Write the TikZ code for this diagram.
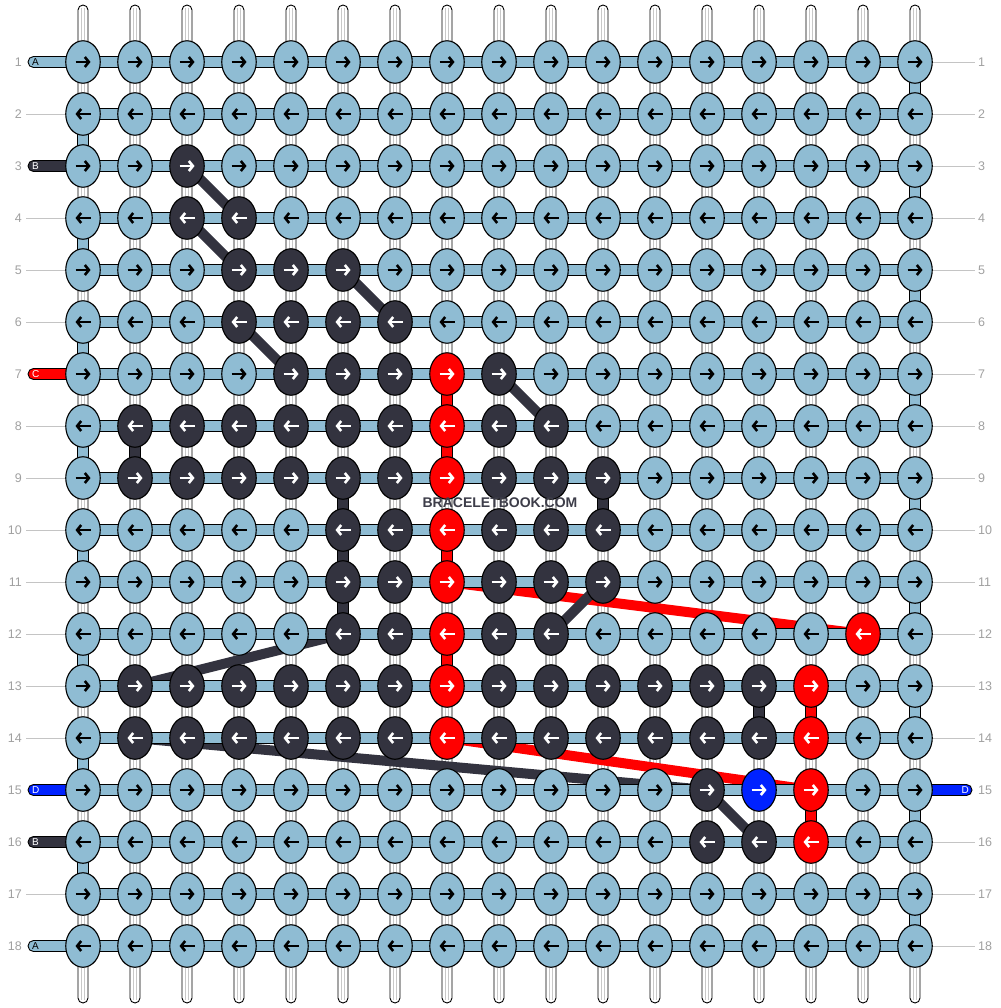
\documentclass[tikz,border=0pt]{standalone}
\usepackage{fontspec}
\setmainfont{Liberation Sans}
\usetikzlibrary{shapes.geometric,arrows.meta}
\definecolor{lb}{HTML}{8FBCD3}
\definecolor{dk}{HTML}{33333F}
\definecolor{rd}{HTML}{FF0000}
\definecolor{bl}{HTML}{0022FF}
\definecolor{numc}{HTML}{A0A0A0}
\definecolor{glc}{HTML}{C4C4C4}
\definecolor{wgc}{HTML}{C8C8C8}
\begin{document}
\begin{tikzpicture}[x=1pt,y=-1pt,
  knot/.style={ellipse,draw=black,line width=1.1pt,minimum width=34.5pt,minimum height=42.5pt,inner sep=0pt},
  warp/.style={draw=black,fill=white,line width=0.9pt},
  warpline/.style={draw=wgc,line width=0.8pt},
  band/.style={draw=black,fill=lb,line width=0.9pt},
  vseg/.style={draw=black,line width=0.9pt},
  diag/.style={line width=10pt,line cap=butt},
  arr/.style={line width=2.6pt,-{Straight Barb[length=4pt,width=10pt]}},
  numlab/.style={text=numc,font=\fontsize{12.5}{13}\selectfont,inner sep=0pt},
  tagtxt/.style={font=\fontsize{10}{10}\selectfont,inner sep=0pt},
  wmark/.style={font=\bfseries\fontsize{14}{14}\selectfont,inner sep=0pt},
  gline/.style={draw=glc,line width=0.8pt}]
\useasboundingbox (0,0) rectangle (1000,1008);
% grid coordinates
\foreach \r in {1,...,18}{\foreach \c in {1,...,17}{
  \coordinate (p-\r-\c) at ({83+(\c-1)*52},{62+(\r-1)*52});}}
% warps
\foreach \c in {1,...,17}{
  \coordinate (wt-\c) at ({83+(\c-1)*52},5);
  \coordinate (wb-\c) at ({83+(\c-1)*52},1003);
  \draw[warp,rounded corners=5pt] ([xshift=-5pt]wt-\c) rectangle ([xshift=5pt]wb-\c);
  \draw[warpline] ([xshift=-1.5pt,yshift=-3pt]wt-\c) -- ([xshift=-1.5pt,yshift=3pt]wb-\c);
  \draw[warpline] ([xshift=1.5pt,yshift=-3pt]wt-\c) -- ([xshift=1.5pt,yshift=3pt]wb-\c);
}
% carried strings (diagonals)
\foreach \a/\b in {11-8/12-16,14-8/15-15}{\draw[diag,draw=rd] (p-\a) -- (p-\b);}
\foreach \a/\b in {3-3/4-4,4-3/5-4,5-6/6-7,6-4/7-5,7-9/8-10,11-11/12-10,12-6/13-2,14-2/15-13,15-13/16-14}{\draw[diag,draw=dk] (p-\a) -- (p-\b);}
% horizontal bands
\foreach \r in {1,...,18}{
  \draw[band] ([yshift=-5.5pt]p-\r-1) rectangle ([yshift=5.5pt]p-\r-17);}
% vertical filled segments
\foreach \r in {2,4,...,16}{\pgfmathtruncatemacro{\s}{\r+1}
  \draw[vseg,fill=lb] ([xshift=-5.5pt,yshift=-16pt]p-\r-1) rectangle ([xshift=5.5pt,yshift=16pt]p-\s-1);}
\foreach \r in {1,3,...,17}{\pgfmathtruncatemacro{\s}{\r+1}
  \draw[vseg,fill=lb] ([xshift=-5.5pt,yshift=-16pt]p-\r-17) rectangle ([xshift=5.5pt,yshift=16pt]p-\s-17);}
\foreach \r/\c/\col in {7/8/rd,8/8/rd,10/8/rd,12/8/rd,8/2/dk,9/6/dk,10/6/dk,11/6/dk,9/11/dk,13/14/dk,13/15/rd,15/15/rd}{\pgfmathtruncatemacro{\s}{\r+1}
  \draw[vseg,fill=\col] ([xshift=-5.5pt,yshift=-16pt]p-\r-\c) rectangle ([xshift=5.5pt,yshift=16pt]p-\s-\c);}
% knot colours
\foreach \rc/\col in {3-3/dk,4-3/dk,4-4/dk,5-4/dk,5-5/dk,5-6/dk,6-4/dk,6-5/dk,6-6/dk,6-7/dk,
  7-5/dk,7-6/dk,7-7/dk,7-8/rd,7-9/dk,
  8-2/dk,8-3/dk,8-4/dk,8-5/dk,8-6/dk,8-7/dk,8-8/rd,8-9/dk,8-10/dk,
  9-2/dk,9-3/dk,9-4/dk,9-5/dk,9-6/dk,9-7/dk,9-8/rd,9-9/dk,9-10/dk,9-11/dk,
  10-6/dk,10-7/dk,10-8/rd,10-9/dk,10-10/dk,10-11/dk,
  11-6/dk,11-7/dk,11-8/rd,11-9/dk,11-10/dk,11-11/dk,
  12-6/dk,12-7/dk,12-8/rd,12-9/dk,12-10/dk,12-16/rd,
  13-2/dk,13-3/dk,13-4/dk,13-5/dk,13-6/dk,13-7/dk,13-8/rd,13-9/dk,13-10/dk,13-11/dk,13-12/dk,13-13/dk,13-14/dk,13-15/rd,
  14-2/dk,14-3/dk,14-4/dk,14-5/dk,14-6/dk,14-7/dk,14-8/rd,14-9/dk,14-10/dk,14-11/dk,14-12/dk,14-13/dk,14-14/dk,14-15/rd,
  15-13/dk,15-14/bl,15-15/rd,16-13/dk,16-14/dk,16-15/rd}{
  \expandafter\xdef\csname kc-\rc\endcsname{\col}}
% left tags (drawn under the first knot)
\foreach \r/\col/\t/\tc in {1/lb/A/black,3/dk/B/white,7/rd/C/white,15/bl/D/white,16/dk/B/white,18/lb/A/black}{
  \coordinate (tg-\r) at ([xshift=-55pt]p-\r-1);
  \draw[band,fill=\col,rounded corners=5.5pt] ([yshift=-5.5pt]tg-\r) rectangle ([xshift=54pt,yshift=5.5pt]tg-\r);
  \node[tagtxt,anchor=west,text=\tc] (tl-\r) at ([xshift=4pt]tg-\r) {\t};}
% right tag
\coordinate (tgr-15) at ([xshift=57pt]p-15-17);
\draw[band,fill=bl,rounded corners=5.5pt] ([xshift=-54pt,yshift=-5.5pt]tgr-15) rectangle ([yshift=5.5pt]tgr-15);
\node[tagtxt,anchor=east,text=white] (tr-15) at ([xshift=-3pt]tgr-15) {D};
% knots
\foreach \r in {1,...,18}{\foreach \c in {1,...,17}{
  \ifcsname kc-\r-\c\endcsname
    \edef\kcol{\csname kc-\r-\c\endcsname}\def\acol{white}%
  \else
    \def\kcol{lb}\def\acol{black}%
  \fi
  \node[knot,fill=\kcol] (k-\r-\c) at (p-\r-\c) {};
  \ifodd\r\relax
    \draw[arr,draw=\acol] ([xshift=-7.5pt]k-\r-\c.center) -- ([xshift=7.5pt]k-\r-\c.center);
  \else
    \draw[arr,draw=\acol] ([xshift=7.5pt]k-\r-\c.center) -- ([xshift=-7.5pt]k-\r-\c.center);
  \fi
}}
% row numbers
\foreach \r in {1,...,18}{
  \node[numlab,anchor=east] (nl-\r) at ([xshift=-61pt]p-\r-1) {\r};
  \node[numlab,anchor=west] (nr-\r) at ([xshift=63pt]p-\r-17) {\r};}
% left guide lines
\foreach \r in {2,4,5,6,8,9,10,11,12,13,14,17}{
  \coordinate (gl-\r) at ([xshift=-57pt]p-\r-1);
  \draw[gline] (gl-\r) -- (k-\r-1.west);}
% right guide lines
\foreach \r in {1,...,14,16,17,18}{
  \coordinate (gr-\r) at ([xshift=60pt]p-\r-17);
  \draw[gline] (k-\r-17.east) -- (gr-\r);}
% watermark
\node[wmark,text=dk!95] (wm) at (500,503) {BRACELETBOOK.COM};
\end{tikzpicture}
\end{document}
